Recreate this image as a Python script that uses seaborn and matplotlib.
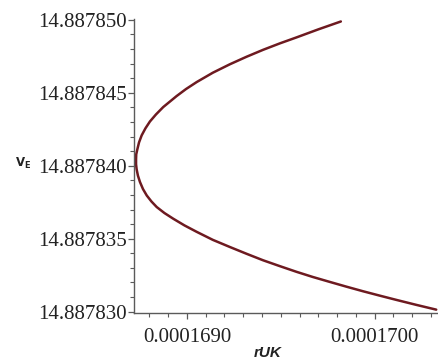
import matplotlib
matplotlib.use("Agg")
import matplotlib.pyplot as plt
from matplotlib.ticker import FixedLocator, MultipleLocator, FormatStrFormatter
import seaborn as sns
import pandas as pd

# Traced curve: rUK against v_E, upper branch then lower branch
r_uk = [
    0.00016982, 0.00016970, 0.000169584, 0.000169495, 0.000169406,
    0.000169317, 0.000169229, 0.000169138, 0.000169052, 0.000168995,
    0.000168945, 0.000168910, 0.000168874, 0.000168835, 0.000168803,
    0.000168779, 0.000168759, 0.000168745, 0.000168736, 0.000168730,
    0.000168729, 0.000168729, 0.000168732, 0.000168739, 0.000168750,
    0.000168766, 0.000168786, 0.000168811, 0.000168839, 0.000168880,
    0.000168927, 0.000168987, 0.000169052, 0.000169138, 0.000169229,
    0.000169317, 0.000169406, 0.000169495, 0.000169584, 0.000169670,
    0.000169761, 0.000169848, 0.000169938, 0.000170027, 0.000170115,
    0.000170221, 0.000170328,
]
v_e = [
    14.88784988, 14.88784934, 14.88784879, 14.88784838, 14.88784794,
    14.88784746, 14.88784695, 14.88784637, 14.88784573, 14.88784525,
    14.88784477, 14.88784440, 14.88784402, 14.88784351, 14.88784303,
    14.88784256, 14.88784208, 14.88784160, 14.88784113, 14.88784078,
    14.88784044, 14.88784010, 14.88783976, 14.88783932, 14.88783888,
    14.88783840, 14.88783796, 14.88783755, 14.88783717, 14.88783676,
    14.88783637, 14.88783591, 14.88783547, 14.88783492, 14.88783443,
    14.88783397, 14.88783352, 14.88783312, 14.88783273, 14.88783238,
    14.88783204, 14.88783172, 14.88783140, 14.88783110, 14.88783081,
    14.88783047, 14.88783014,
]
x_ticks = [0.0001690, 0.0001700]
y_ticks = [14.887830, 14.887835, 14.887840, 14.887845, 14.887850]

df = pd.DataFrame({"rUK": r_uk, "vE": v_e})

sns.set_theme(style="white")
plt.rcParams["font.family"] = ["Liberation Serif", "DejaVu Serif"]

fig = plt.figure(figsize=(4.38, 3.6), dpi=100)
ax = fig.add_axes([134 / 438, 47 / 360, 1 - 134 / 438, 294 / 360])

sns.lineplot(data=df, x="rUK", y="vE", sort=False, estimator=None,
             color="#6e1a20", linewidth=1.8, ax=ax)
for line in ax.get_lines():
    line.set_solid_joinstyle("round")
    line.set_solid_capstyle("round")

ax.set_xlim(0.00016871809, 0.0001703375)
ax.set_ylim(14.88782991, 14.88785005)

ax.xaxis.set_major_locator(FixedLocator(x_ticks))
ax.xaxis.set_minor_locator(MultipleLocator(1e-7))
ax.yaxis.set_major_locator(FixedLocator(y_ticks))
ax.yaxis.set_minor_locator(MultipleLocator(1e-6))
ax.xaxis.set_major_formatter(FormatStrFormatter("%.7f"))
ax.yaxis.set_major_formatter(FormatStrFormatter("%.6f"))

for side in ("top", "right"):
    ax.spines[side].set_visible(False)
for side in ("left", "bottom"):
    ax.spines[side].set_color("#5a5a5a")
    ax.spines[side].set_linewidth(1.0)

ax.tick_params(axis="both", which="major", direction="out", length=4.5,
               width=0.9, color="#5a5a5a", labelsize=15,
               labelcolor="#222222")
ax.tick_params(axis="both", which="minor", direction="out", length=3,
               width=0.8, color="#5a5a5a")
ax.tick_params(axis="y", which="major", pad=0.5)
ax.tick_params(axis="x", which="major", pad=6.5)
ax.tick_params(axis="x", which="both", bottom=True)
ax.tick_params(axis="y", which="both", left=True)

ax.set_xlabel("rUK", fontfamily="Liberation Sans", fontweight="bold",
              fontstyle="italic", fontsize=11, color="#222222")
ax.xaxis.set_label_coords((268 - 134) / 304, -0.112)

ax.set_ylabel(r"$\mathbf{V}_{\mathbf{E}}$", rotation=0, fontsize=8.5,
              color="#222222", va="center", ha="center")
ax.yaxis.set_label_coords(-0.365, 0.51)

fig.savefig("out.png", dpi=100)
